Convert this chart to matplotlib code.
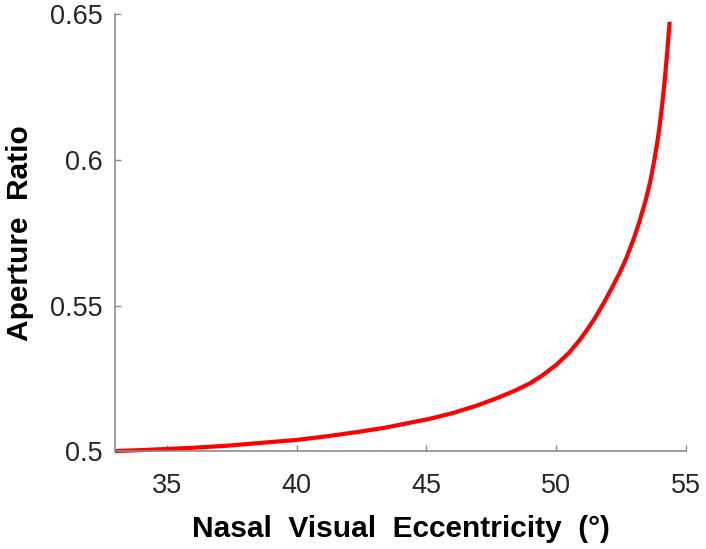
import matplotlib
matplotlib.use("Agg")
import matplotlib.pyplot as plt

plt.rcParams['font.family'] = ['Liberation Sans', 'DejaVu Sans']

# Data
eccentricity = [33.0, 34.0, 35.0, 36.0, 37.3, 38.5, 40.0, 41.2, 42.4, 43.4,
                44.35, 45.1, 46.0, 46.9, 47.7, 48.4, 49.0, 49.5, 50.0, 50.5,
                50.9, 51.2, 51.5, 51.85, 52.17, 52.46, 52.7, 53.0, 53.2, 53.45,
                53.62, 53.78, 53.9, 53.98, 54.08, 54.18, 54.27, 54.37]
aperture_ratio = [0.5000, 0.5003, 0.5007, 0.5011, 0.5018, 0.5027, 0.5038, 0.5051, 0.5066, 0.5080,
                  0.5097, 0.5110, 0.5130, 0.5155, 0.5181, 0.5207, 0.5233, 0.5262, 0.5296, 0.5338,
                  0.5381, 0.5418, 0.5458, 0.5512, 0.5565, 0.5615, 0.5663, 0.5733, 0.5787, 0.5863,
                  0.5925, 0.6000, 0.6065, 0.6115, 0.6190, 0.6275, 0.6365, 0.6475]
x_ticks = [35, 40, 45, 50, 55]
y_ticks = [0.5, 0.55, 0.6, 0.65]
y_ticklabels = ['0.5', '0.55', '0.6', '0.65']

fig = plt.figure(figsize=(7.06, 5.49), dpi=100)
ax = fig.add_axes([0.1629, 0.1785, 0.9717 - 0.1629, 0.9736 - 0.1785])

ax.plot(eccentricity, aperture_ratio, color='#ff0000', linewidth=3.0,
        solid_capstyle='butt', solid_joinstyle='round', clip_on=False)

ax.set_xlim(33, 55)
ax.set_ylim(0.5, 0.65)
ax.set_xticks(x_ticks)
ax.set_yticks(y_ticks)
ax.set_yticklabels(y_ticklabels)

for s in ['top', 'right']:
    ax.spines[s].set_visible(False)
for s in ['left', 'bottom']:
    ax.spines[s].set_color('#8c8c8c')
    ax.spines[s].set_linewidth(1.2)

ax.tick_params(axis='both', direction='in', length=4, width=1.0, color='#8c8c8c',
               labelsize=19.5, labelcolor='#262626')
ax.tick_params(axis='x', pad=16)
ax.tick_params(axis='y', pad=9)

ax.set_xlabel('Nasal  Visual  Eccentricity  (°)', fontsize=21.5, fontweight='bold',
              color='black', labelpad=11)
ax.set_ylabel('Aperture  Ratio', fontsize=21.5, fontweight='bold', color='black',
              labelpad=11)

fig.savefig('out.png', dpi=100)
